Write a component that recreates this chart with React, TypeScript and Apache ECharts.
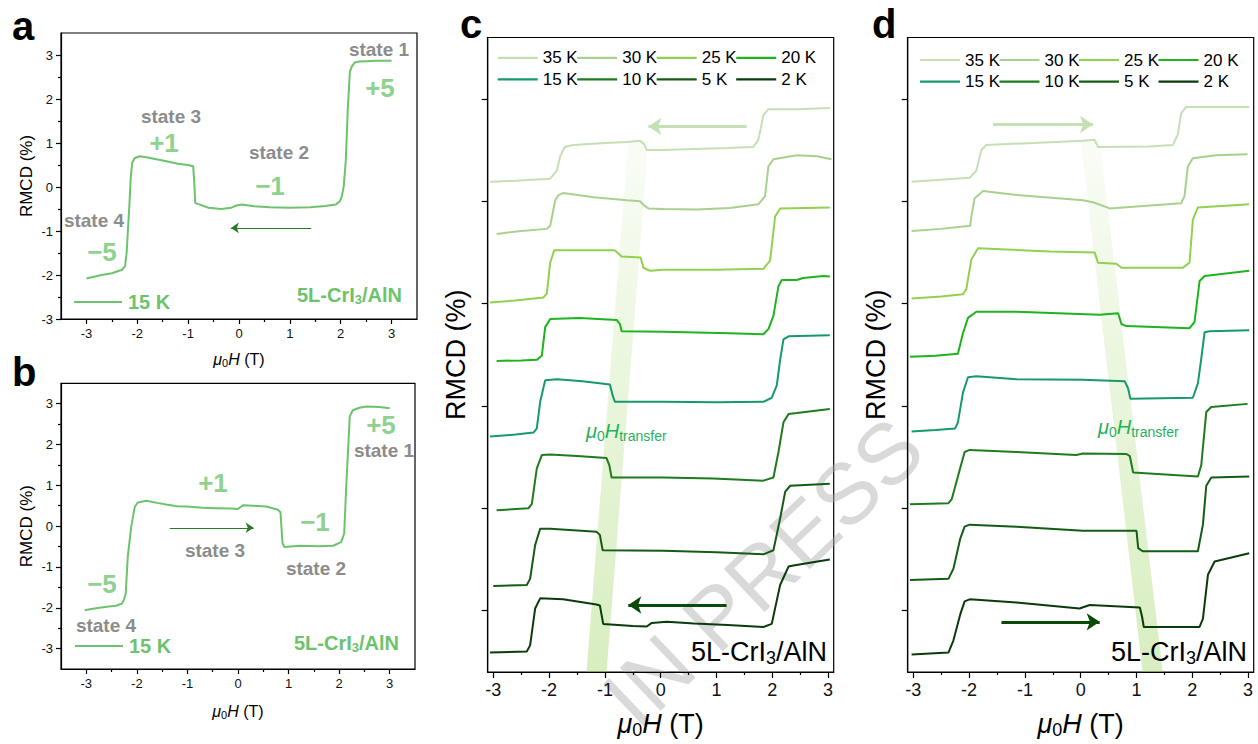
import React, { useEffect, useRef } from 'react';
import * as echarts from 'echarts';

const FONT = "'Liberation Sans', Arial, Helvetica, sans-serif";

// ---------- data ----------
const TEMPS = ['35 K', '30 K', '25 K', '20 K', '15 K', '10 K', '5 K', '2 K'];
const TEMP_COLORS = ['#c5e0b4', '#a9d18e', '#92d050', '#1db41d', '#17996e', '#1e7b1e', '#145c14', '#0b3b0b'];

// panel a: 15 K, field swept down (+3 T -> -3 T)
const sweepDown15K = [
  [3.0, 2.87], [2.7, 2.87], [2.5, 2.86], [2.35, 2.85], [2.28, 2.83], [2.22, 2.74], [2.18, 2.62], [2.14, 1.8],
  [2.1, 0.6], [2.06, 0.02], [2.02, -0.22], [1.98, -0.33], [1.9, -0.4], [1.7, -0.43], [1.4, -0.46], [1.0, -0.47],
  [0.6, -0.46], [0.3, -0.44], [0.05, -0.4], [-0.05, -0.42], [-0.15, -0.47], [-0.35, -0.5], [-0.6, -0.47],
  [-0.8, -0.39], [-0.86, -0.36], [-0.88, 0.1], [-0.9, 0.47], [-1.0, 0.5], [-1.2, 0.53], [-1.5, 0.6], [-1.8, 0.67],
  [-1.95, 0.7], [-2.05, 0.66], [-2.1, 0.55], [-2.13, 0.2], [-2.15, -0.3], [-2.18, -0.9], [-2.21, -1.5],
  [-2.24, -1.8], [-2.3, -1.88], [-2.5, -1.96], [-2.7, -2.0], [-2.85, -2.04], [-3.0, -2.08],
];

// panel b: 15 K, field swept up (-3 T -> +3 T)
const sweepUp15K = [
  [-3.03, -2.06], [-2.9, -2.03], [-2.74, -2.0], [-2.55, -1.97], [-2.41, -1.95], [-2.3, -1.9], [-2.26, -1.82],
  [-2.22, -1.65], [-2.18, -0.75], [-2.11, 0.0], [-2.04, 0.48], [-1.98, 0.58], [-1.81, 0.62], [-1.6, 0.57],
  [-1.42, 0.53], [-1.2, 0.49], [-1.02, 0.48], [-0.7, 0.45], [-0.43, 0.44], [-0.15, 0.43], [0.0, 0.42],
  [0.05, 0.47], [0.1, 0.51], [0.3, 0.5], [0.56, 0.48], [0.79, 0.4], [0.84, 0.34], [0.88, -0.42], [0.92, -0.51],
  [1.22, -0.48], [1.6, -0.49], [1.88, -0.48], [2.04, -0.39], [2.1, -0.18], [2.14, 0.97], [2.21, 2.69],
  [2.27, 2.84], [2.4, 2.9], [2.54, 2.93], [2.8, 2.92], [3.0, 2.89],
];

// panel c: sweep down, curves offset vertically (axis units)
const c35 = [[-3.06, 4.19], [-2.6, 4.2], [-2.3, 4.21], [-1.98, 4.22], [-1.86, 4.3], [-1.8, 4.44], [-1.72, 4.53], [-1.57, 4.55], [-1.0, 4.57], [-0.6, 4.58], [-0.37, 4.59], [-0.3, 4.56], [-0.25, 4.5], [0.05, 4.5], [0.6, 4.51], [1.2, 4.52], [1.66, 4.53], [1.75, 4.6], [1.84, 4.84], [1.93, 4.9], [2.44, 4.9], [3.03, 4.91]];
const c30 = [[-2.94, 3.68], [-2.5, 3.71], [-2.04, 3.73], [-1.98, 3.76], [-1.89, 4.01], [-1.83, 4.06], [-1.75, 4.08], [-1.2, 4.04], [-0.6, 4.01], [-0.37, 4.0], [-0.3, 3.96], [-0.22, 3.93], [0.05, 3.925], [0.65, 3.92], [1.24, 3.935], [1.75, 3.97], [1.87, 4.05], [1.93, 4.34], [2.02, 4.41], [2.44, 4.45], [2.8, 4.44], [3.06, 4.41]];
const c25 = [[-3.06, 3.01], [-2.6, 3.03], [-2.1, 3.06], [-2.04, 3.1], [-1.98, 3.4], [-1.91, 3.52], [-1.4, 3.52], [-0.82, 3.52], [-0.76, 3.49], [-0.7, 3.46], [-0.36, 3.45], [-0.31, 3.35], [-0.19, 3.32], [0.05, 3.33], [1.0, 3.33], [1.84, 3.34], [1.96, 3.42], [2.05, 3.85], [2.14, 3.93], [3.03, 3.94]];
const c20 = [[-2.94, 2.44], [-2.5, 2.445], [-2.22, 2.45], [-2.13, 2.49], [-2.07, 2.77], [-1.98, 2.85], [-1.45, 2.86], [-0.79, 2.84], [-0.73, 2.8], [-0.7, 2.73], [0.05, 2.725], [1.24, 2.71], [1.84, 2.7], [1.93, 2.75], [2.02, 2.88], [2.11, 3.17], [2.17, 3.23], [2.44, 3.23], [2.55, 3.25], [2.91, 3.27], [3.03, 3.265]];
const c15 = [[-3.06, 1.7], [-2.6, 1.72], [-2.28, 1.74], [-2.22, 1.78], [-2.16, 2.04], [-2.07, 2.25], [-1.86, 2.26], [-1.4, 2.24], [-0.91, 2.21], [-0.86, 2.1], [-0.82, 2.04], [0.05, 2.04], [1.0, 2.035], [1.84, 2.04], [1.99, 2.08], [2.08, 2.2], [2.14, 2.45], [2.2, 2.65], [2.29, 2.68], [3.03, 2.69]];
const c10 = [[-2.94, 0.98], [-2.37, 1.0], [-2.31, 1.04], [-2.22, 1.39], [-2.13, 1.52], [-1.98, 1.525], [-1.5, 1.51], [-0.97, 1.49], [-0.92, 1.42], [-0.88, 1.3], [0.05, 1.3], [0.94, 1.29], [1.84, 1.27], [2.02, 1.3], [2.11, 1.55], [2.2, 1.84], [2.29, 1.92], [2.44, 1.93], [3.03, 1.97]];
const c5 = [[-3.0, 0.24], [-2.4, 0.25], [-2.34, 0.31], [-2.25, 0.64], [-2.16, 0.8], [-1.98, 0.8], [-1.15, 0.77], [-1.09, 0.74], [-1.04, 0.59], [0.05, 0.585], [1.0, 0.57], [1.84, 0.55], [2.02, 0.59], [2.14, 0.9], [2.23, 1.16], [2.32, 1.22], [3.03, 1.24]];
const c2 = [[-3.06, -0.41], [-2.4, -0.4], [-2.34, -0.34], [-2.25, 0.02], [-2.16, 0.12], [-1.75, 0.11], [-1.15, 0.06], [-1.09, 0.05], [-1.03, -0.13], [-0.5, -0.15], [-0.25, -0.155], [-0.16, -0.12], [0.11, -0.11], [0.6, -0.125], [1.2, -0.14], [1.84, -0.16], [1.99, -0.13], [2.14, 0.25], [2.29, 0.43], [2.38, 0.44], [2.7, 0.47], [3.03, 0.5]];

// panel d: sweep up
const d35 = [[-3.03, 4.19], [-2.5, 4.21], [-1.99, 4.23], [-1.87, 4.3], [-1.78, 4.5], [-1.69, 4.55], [-0.85, 4.57], [0.04, 4.59], [0.25, 4.6], [0.31, 4.53], [1.23, 4.535], [1.65, 4.55], [1.74, 4.65], [1.8, 4.86], [1.89, 4.92], [3.02, 4.92]];
const d30 = [[-3.03, 3.71], [-2.5, 3.73], [-1.98, 3.76], [-1.96, 3.85], [-1.9, 4.03], [-1.75, 4.1], [-1.15, 4.06], [0.04, 4.01], [0.22, 3.99], [0.52, 3.93], [0.94, 3.945], [1.8, 3.98], [1.86, 4.05], [1.92, 4.34], [2.01, 4.42], [2.43, 4.45], [2.99, 4.46]];
const d25 = [[-3.03, 3.05], [-2.5, 3.07], [-2.11, 3.09], [-2.05, 3.14], [-1.96, 3.43], [-1.84, 3.54], [-0.55, 3.51], [0.25, 3.5], [0.31, 3.4], [0.64, 3.39], [0.73, 3.35], [1.83, 3.35], [1.95, 3.4], [2.01, 3.82], [2.1, 3.94], [3.02, 3.97]];
const d20 = [[-3.06, 2.48], [-2.6, 2.49], [-2.2, 2.51], [-2.11, 2.71], [-2.02, 2.86], [-1.87, 2.92], [-1.15, 2.92], [0.34, 2.89], [0.67, 2.905], [0.73, 2.8], [0.82, 2.78], [1.95, 2.76], [2.04, 2.82], [2.13, 3.22], [2.22, 3.27], [3.02, 3.32]];
const d15 = [[-3.03, 1.75], [-2.6, 1.765], [-2.25, 1.78], [-2.2, 1.84], [-2.11, 2.13], [-2.02, 2.28], [-1.87, 2.29], [-1.15, 2.26], [0.04, 2.255], [0.79, 2.24], [0.85, 2.17], [0.89, 2.07], [2.01, 2.08], [2.1, 2.22], [2.16, 2.46], [2.22, 2.72], [2.31, 2.73], [3.02, 2.74]];
const d10 = [[-3.06, 1.04], [-2.37, 1.05], [-2.31, 1.09], [-2.16, 1.39], [-2.08, 1.55], [-1.99, 1.57], [-1.15, 1.55], [-0.08, 1.52], [0.04, 1.535], [0.82, 1.53], [0.88, 1.51], [0.94, 1.35], [2.1, 1.31], [2.16, 1.42], [2.25, 1.94], [2.34, 1.99], [2.99, 2.02]];
const d5 = [[-3.06, 0.3], [-2.37, 0.31], [-2.28, 0.41], [-2.16, 0.7], [-2.08, 0.82], [-1.99, 0.84], [-1.15, 0.82], [0.04, 0.78], [1.0, 0.78], [1.03, 0.61], [1.11, 0.58], [2.1, 0.58], [2.19, 0.84], [2.25, 1.22], [2.34, 1.3], [3.02, 1.31]];
const d2 = [[-3.03, -0.43], [-2.37, -0.41], [-2.28, -0.29], [-2.16, -0.04], [-2.08, 0.09], [-1.99, 0.11], [-1.15, 0.08], [-0.02, 0.02], [0.16, 0.055], [1.06, 0.03], [1.1, -0.06], [1.13, -0.16], [2.13, -0.16], [2.19, -0.08], [2.28, 0.35], [2.4, 0.48], [3.02, 0.56]];

const C_CURVES = [c35, c30, c25, c20, c15, c10, c5, c2];
const D_CURVES = [d35, d30, d25, d20, d15, d10, d5, d2];

// ticks
const X_MAJOR = [-3, -2, -1, 0, 1, 2, 3];
const X_MINOR = [-2.5, -1.5, -0.5, 0.5, 1.5, 2.5];
const Y_MAJOR_AB = [-3, -2, -1, 0, 1, 2, 3];
const Y_MINOR_AB = [-2.5, -1.5, -0.5, 0.5, 1.5, 2.5];
const Y_TICKS_CD = [0, 1, 2, 3, 4, 5];

// transfer-field bands: [xBottomLeft, xBottomRight, xTopLeft, xTopRight, yBottom, yTop]
const BAND_C = [[-1.33, -0.97, -0.58, -0.22, -0.6, 4.6]];
const BAND_D = [[1.11, 1.47, 0.0, 0.34, -0.6, 4.6]];

// sweep arrows: [from, to]
const ARROW_A = [[1.42, -0.93], [-0.16, -0.93]];
const ARROW_B = [[-1.35, -0.04], [0.31, -0.04]];
const ARROW_C_TOP = [[1.54, 4.73], [-0.22, 4.73]];
const ARROW_C_BOTTOM = [[1.18, 0.055], [-0.58, 0.055]];
const ARROW_D_TOP = [[-1.57, 4.75], [0.22, 4.75]];
const ARROW_D_BOTTOM = [[-1.42, -0.11], [0.34, -0.11]];

// ---------- styles / layout ----------
const AB_GREEN = '#6cc36c';
const STATE_GRAY = '#8c8c8c';
const NUM_GREEN = '#8fd18f';
const TRANSFER_GREEN = '#1fb25c';

const GRIDS = [
  { left: 61, top: 33, width: 356, height: 286 },
  { left: 61, top: 383.3, width: 354, height: 285.7 },
  { left: 487.7, top: 37.5, width: 346, height: 636 },
  { left: 907.7, top: 37.5, width: 346, height: 636 },
];

const richAB = {
  i: { fontSize: 16, fontStyle: 'italic', color: '#000', fontFamily: FONT },
  s: { fontSize: 11, padding: [7, 0, 0, 0], color: '#000', fontFamily: FONT },
  n: { fontSize: 16, color: '#000', fontFamily: FONT },
};
const richCD = {
  i: { fontSize: 27, fontStyle: 'italic', color: '#000', fontFamily: FONT },
  s: { fontSize: 18, padding: [12, 0, 0, 0], color: '#000', fontFamily: FONT },
  n: { fontSize: 27, color: '#000', fontFamily: FONT },
};
const FIELD_NAME = '{i|μ}{s|0}{i|H}{n| (T)}';

function xMajor(gridIndex: number, big: boolean, min: number, max: number, nameGap: number) {
  return {
    type: 'value', gridIndex, min, max, position: 'bottom',
    name: FIELD_NAME, nameLocation: 'middle', nameGap,
    nameTextStyle: { rich: big ? richCD : richAB },
    axisLine: { show: true, onZero: false, lineStyle: { color: '#000', width: 1.2 } },
    axisTick: { show: true, customValues: X_MAJOR, length: big ? 6 : 5, lineStyle: { color: '#000', width: 1.2 } },
    axisLabel: { show: true, customValues: X_MAJOR, fontSize: big ? 18 : 13, color: '#111', margin: big ? 9 : 8, fontFamily: FONT },
    splitLine: { show: false },
  };
}
function xMinor(gridIndex: number, min: number, max: number) {
  return {
    type: 'value', gridIndex, min, max, position: 'bottom',
    axisLine: { show: false, onZero: false },
    axisTick: { show: true, customValues: X_MINOR, length: 3, lineStyle: { color: '#000', width: 1.2 } },
    axisLabel: { show: false },
    splitLine: { show: false },
  };
}
function yMajorAB(gridIndex: number, min: number, max: number) {
  return {
    type: 'value', gridIndex, min, max, position: 'left',
    name: 'RMCD (%)', nameLocation: 'middle', nameGap: 26, nameRotate: 90,
    nameTextStyle: { fontSize: 17, color: '#000', fontFamily: FONT },
    axisLine: { show: true, onZero: false, lineStyle: { color: '#000', width: 1.2 } },
    axisTick: { show: true, customValues: Y_MAJOR_AB, length: 5, lineStyle: { color: '#000', width: 1.2 } },
    axisLabel: { show: true, customValues: Y_MAJOR_AB, fontSize: 13, color: '#111', margin: 8, fontFamily: FONT },
    splitLine: { show: false },
  };
}
function yMinorAB(gridIndex: number, min: number, max: number) {
  return {
    type: 'value', gridIndex, min, max, position: 'left',
    axisLine: { show: false, onZero: false },
    axisTick: { show: true, customValues: Y_MINOR_AB, length: 3, lineStyle: { color: '#000', width: 1.2 } },
    axisLabel: { show: false },
    splitLine: { show: false },
  };
}
function yCD(gridIndex: number) {
  return {
    type: 'value', gridIndex, min: -0.6, max: 5.6, position: 'left',
    name: 'RMCD (%)', nameLocation: 'middle', nameGap: 18, nameRotate: 90,
    nameTextStyle: { fontSize: 27, color: '#000', fontFamily: FONT },
    axisLine: { show: true, onZero: false, lineStyle: { color: '#000', width: 1.2 } },
    axisTick: { show: true, customValues: Y_TICKS_CD, length: 6, lineStyle: { color: '#000', width: 1.2 } },
    axisLabel: { show: false },
    splitLine: { show: false },
  };
}

function arrowMarkLine(arrow: number[][], color: string, width: number, size: number) {
  return {
    silent: true,
    symbol: ['none', 'arrow'],
    symbolSize: size,
    label: { show: false },
    emphasis: { disabled: true },
    lineStyle: { color, width, type: 'solid' },
    data: [[{ coord: arrow[0] }, { coord: arrow[1] }]],
  };
}

function bandSeries(name: string, data: number[][], xAxisIndex: number, yAxisIndex: number) {
  return {
    type: 'custom', name, xAxisIndex, yAxisIndex, z: 1, silent: true, clip: true,
    data,
    renderItem: (_params: any, api: any) => {
      const p1 = api.coord([api.value(0), api.value(4)]);
      const p2 = api.coord([api.value(1), api.value(4)]);
      const p3 = api.coord([api.value(3), api.value(5)]);
      const p4 = api.coord([api.value(2), api.value(5)]);
      return {
        type: 'polygon',
        shape: { points: [p1, p2, p3, p4] },
        style: {
          fill: new echarts.graphic.LinearGradient(0, 1, 0, 0, [
            { offset: 0, color: 'rgba(146,208,80,0.36)' },
            { offset: 0.6, color: 'rgba(146,208,80,0.18)' },
            { offset: 1, color: 'rgba(146,208,80,0.05)' },
          ]),
        },
      };
    },
  };
}

function curveSeries(curves: number[][][], xAxisIndex: number, yAxisIndex: number, arrows: any[]) {
  return curves.map((data, k) => ({
    type: 'line', name: TEMPS[k], xAxisIndex, yAxisIndex, data,
    symbol: 'none', z: 3,
    lineStyle: { color: TEMP_COLORS[k], width: 2 },
    itemStyle: { color: TEMP_COLORS[k] },
    ...(k === 0 ? { markLine: arrows[0] } : {}),
    ...(k === curves.length - 1 ? { markLine: arrows[1] } : {}),
  }));
}

function legendColumns(lefts: number[], top: number) {
  return lefts.map((left, j) => ({
    orient: 'vertical', left, top, padding: 0, itemGap: 0,
    icon: 'rect', itemWidth: 40, itemHeight: 2.2, selectedMode: false,
    textStyle: { fontSize: 17, color: '#000', lineHeight: 21.6, fontFamily: FONT },
    data: [TEMPS[j], TEMPS[j + 4]],
  }));
}

// annotation layout
const STATE_LABELS_A = [
  { t: 'state 1', x: 379, y: 49 }, { t: 'state 3', x: 171, y: 116 },
  { t: 'state 2', x: 279, y: 152 }, { t: 'state 4', x: 94, y: 220 },
];
const NUM_LABELS_A = [
  { t: '+5', x: 380, y: 88 }, { t: '+1', x: 164, y: 143 },
  { t: '−1', x: 270, y: 186 }, { t: '−5', x: 102, y: 252 },
];
const STATE_LABELS_B = [
  { t: 'state 1', x: 384, y: 450 }, { t: 'state 3', x: 215, y: 550 },
  { t: 'state 2', x: 316, y: 568 }, { t: 'state 4', x: 106, y: 625 },
];
const NUM_LABELS_B = [
  { t: '+5', x: 381, y: 425 }, { t: '+1', x: 213, y: 483 },
  { t: '−1', x: 315, y: 522 }, { t: '−5', x: 102, y: 584 },
];

function txt(text: string, x: number, y: number, style: any, extra: any = {}) {
  return {
    type: 'text', x, y, z: 20, silent: true,
    style: { text, align: 'center', verticalAlign: 'middle', fontFamily: FONT, ...style },
    ...extra,
  };
}

function buildGraphics() {
  const g: any[] = [];
  // watermark
  g.push({
    type: 'text', x: 763, y: 572, rotation: 0.76, z: 0, silent: true,
    style: { text: 'IN PRESS', align: 'center', verticalAlign: 'middle', fontFamily: FONT, fontSize: 86, fill: 'rgba(170,170,170,0.45)' },
  });
  // panel letters
  g.push(txt('a', 12, 26, { fontSize: 40, fontWeight: 'bold', fill: '#000', align: 'left' }));
  g.push(txt('b', 12, 372, { fontSize: 40, fontWeight: 'bold', fill: '#000', align: 'left' }));
  g.push(txt('c', 460, 24, { fontSize: 40, fontWeight: 'bold', fill: '#000', align: 'left' }));
  g.push(txt('d', 872, 24, { fontSize: 40, fontWeight: 'bold', fill: '#000', align: 'left' }));
  // state labels
  [...STATE_LABELS_A, ...STATE_LABELS_B].forEach((s) =>
    g.push(txt(s.t, s.x, s.y, { fontSize: 19, fontWeight: 'bold', fill: STATE_GRAY })));
  [...NUM_LABELS_A, ...NUM_LABELS_B].forEach((s) =>
    g.push(txt(s.t, s.x, s.y, { fontSize: 26, fontWeight: 'bold', fill: NUM_GREEN })));
  // 15 K keys
  g.push({ type: 'line', z: 20, silent: true, shape: { x1: 74, y1: 302, x2: 122, y2: 302 }, style: { stroke: AB_GREEN, lineWidth: 2 } });
  g.push(txt('15 K', 128, 302, { fontSize: 20, fontWeight: 'bold', fill: AB_GREEN, align: 'left' }));
  g.push({ type: 'line', z: 20, silent: true, shape: { x1: 75, y1: 646, x2: 123, y2: 646 }, style: { stroke: AB_GREEN, lineWidth: 2 } });
  g.push(txt('15 K', 129, 646, { fontSize: 20, fontWeight: 'bold', fill: AB_GREEN, align: 'left' }));
  // sample labels a/b
  const richSmall = {
    n: { fontSize: 20, fontWeight: 'bold', fill: AB_GREEN, fontFamily: FONT },
    s: { fontSize: 13, fontWeight: 'bold', fill: AB_GREEN, padding: [8, 0, 0, 0], fontFamily: FONT },
  };
  g.push(txt('{n|5L-CrI}{s|3}{n|/AlN}', 402, 295, { rich: richSmall, fill: AB_GREEN, align: 'right' }));
  g.push(txt('{n|5L-CrI}{s|3}{n|/AlN}', 399, 643, { rich: richSmall, fill: AB_GREEN, align: 'right' }));
  // sample labels c/d
  const richBig = {
    n: { fontSize: 27, fill: '#000', fontFamily: FONT },
    s: { fontSize: 18, fill: '#000', padding: [12, 0, 0, 0], fontFamily: FONT },
  };
  g.push(txt('{n|5L-CrI}{s|3}{n|/AlN}', 827, 652, { rich: richBig, fill: '#000', align: 'right' }));
  g.push(txt('{n|5L-CrI}{s|3}{n|/AlN}', 1247, 652, { rich: richBig, fill: '#000', align: 'right' }));
  // transfer field labels
  const richTr = {
    i: { fontSize: 20, fontStyle: 'italic', fill: TRANSFER_GREEN, fontFamily: FONT },
    s: { fontSize: 14, fill: TRANSFER_GREEN, padding: [9, 0, 0, 0], fontFamily: FONT },
  };
  g.push(txt('{i|μ}{s|0}{i|H}{s|transfer}', 586, 431, { rich: richTr, fill: TRANSFER_GREEN, align: 'left' }));
  g.push(txt('{i|μ}{s|0}{i|H}{s|transfer}', 1098, 427, { rich: richTr, fill: TRANSFER_GREEN, align: 'left' }));
  return g;
}

function buildOption() {
  return {
    animation: false,
    backgroundColor: '#ffffff',
    textStyle: { fontFamily: FONT },
    grid: GRIDS.map((r) => ({ ...r, show: true, borderColor: '#000', borderWidth: 1.2, backgroundColor: 'transparent', containLabel: false })),
    xAxis: [
      xMajor(0, false, -3.5, 3.5, 31), xMinor(0, -3.5, 3.5),
      xMajor(1, false, -3.5, 3.5, 33), xMinor(1, -3.5, 3.5),
      xMajor(2, true, -3.1, 3.1, 37), xMinor(2, -3.1, 3.1),
      xMajor(3, true, -3.1, 3.1, 37), xMinor(3, -3.1, 3.1),
    ],
    yAxis: [
      yMajorAB(0, -3, 3.5), yMinorAB(0, -3, 3.5),
      yMajorAB(1, -3.5, 3.5), yMinorAB(1, -3.5, 3.5),
      yCD(2), yCD(3),
    ],
    legend: [
      ...legendColumns([497.7, 577.2, 656.7, 736.2], 47),
      ...legendColumns([920, 999.5, 1079, 1158.5], 49.2),
    ],
    graphic: buildGraphics(),
    series: [
      {
        type: 'line', name: 'a: 15 K sweep down', xAxisIndex: 0, yAxisIndex: 0, data: sweepDown15K,
        symbol: 'none', z: 3, lineStyle: { color: AB_GREEN, width: 2 }, itemStyle: { color: AB_GREEN },
        markLine: arrowMarkLine(ARROW_A, '#2a7a2a', 1, 8),
      },
      {
        type: 'line', name: 'b: 15 K sweep up', xAxisIndex: 2, yAxisIndex: 2, data: sweepUp15K,
        symbol: 'none', z: 3, lineStyle: { color: AB_GREEN, width: 2 }, itemStyle: { color: AB_GREEN },
        markLine: arrowMarkLine(ARROW_B, '#2a7a2a', 1, 8),
      },
      bandSeries('c: transfer band', BAND_C, 4, 4),
      bandSeries('d: transfer band', BAND_D, 6, 5),
      ...curveSeries(C_CURVES, 4, 4, [
        arrowMarkLine(ARROW_C_TOP, '#c5e0b4', 3, 13),
        arrowMarkLine(ARROW_C_BOTTOM, '#0b4a0b', 3, 13),
      ]),
      ...curveSeries(D_CURVES, 6, 5, [
        arrowMarkLine(ARROW_D_TOP, '#c5e0b4', 3, 13),
        arrowMarkLine(ARROW_D_BOTTOM, '#0b4a0b', 3, 13),
      ]),
    ],
  };
}

export default function App() {
  const ref = useRef<HTMLDivElement>(null);
  useEffect(() => {
    document.body.style.margin = '0';
    if (!ref.current) return;
    const chart = echarts.init(ref.current, null, { renderer: 'svg' });
    chart.setOption(buildOption() as any);
    return () => chart.dispose();
  }, []);
  return (
    <div
      ref={ref}
      style={{ position: 'fixed', left: 0, top: 0, width: 1258, height: 744, background: '#fff' }}
    />
  );
}
